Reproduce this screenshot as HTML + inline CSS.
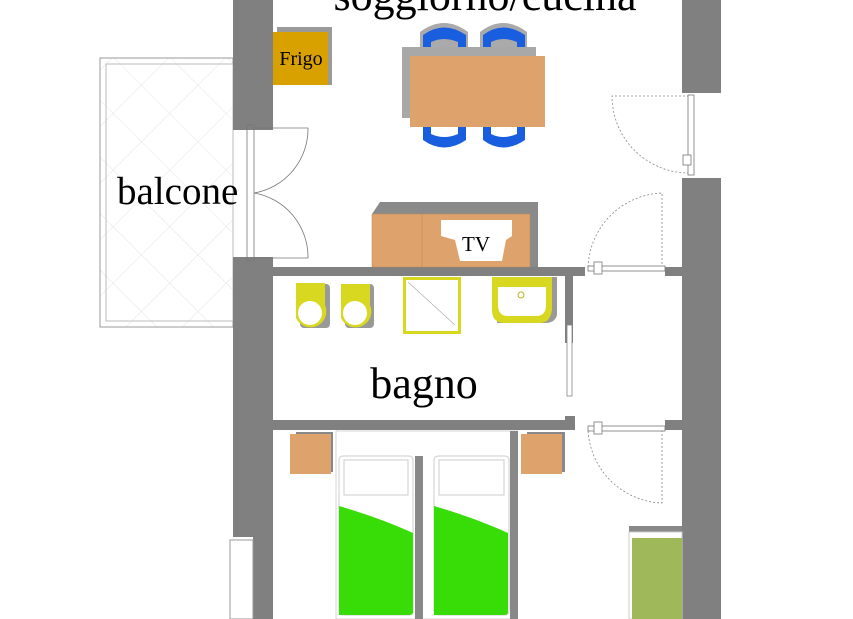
<!DOCTYPE html>
<html><head><style>body{margin:0;background:#fff}svg{display:block}</style></head><body>
<svg width="853" height="619" viewBox="0 0 853 619" xmlns="http://www.w3.org/2000/svg" font-family="Liberation Serif, serif">
<defs><pattern id="p" width="40" height="40" patternUnits="userSpaceOnUse" patternTransform="rotate(45)"><path d="M0 0H40M0 0V40" stroke="#e4e4e4" stroke-width="1" fill="none"/></pattern></defs>
<rect x="100" y="58" width="133" height="269" fill="url(#p)" stroke="#999" stroke-width="1"/>
<rect x="106" y="64" width="127" height="257" fill="none" stroke="#bbb" stroke-width="1"/>
<text x="117" y="204" font-size="39">balcone</text>
<g fill="#808080">
<rect x="233" y="0" width="40" height="130"/>
<rect x="233" y="257" width="40" height="280"/>
<rect x="253" y="537" width="20" height="82"/>
<rect x="682" y="0" width="39" height="93"/>
<rect x="682" y="178" width="39" height="441"/>
<rect x="273" y="267" width="312" height="9"/>
<rect x="665" y="267" width="17" height="9"/>
<rect x="273" y="420" width="302" height="10"/>
<rect x="565" y="416" width="10" height="6"/>
<rect x="665" y="420" width="17" height="10"/>
<rect x="565" y="276" width="8" height="67"/>
</g>
<rect x="230" y="540" width="23" height="79" fill="#fff" stroke="#999"/>
<rect x="567" y="325" width="5" height="71" fill="#fff" stroke="#888" stroke-width="0.8"/>
<g fill="none" stroke="#777" stroke-width="0.8">
<rect x="247" y="125" width="7" height="135"/>
<path d="M254 128 H308 A65 65 0 0 1 254 193"/>
<path d="M254 258 H308 A65 65 0 0 0 254 193"/>
</g>
<g fill="none" stroke="#888" stroke-width="0.8" stroke-dasharray="2,2">
<path d="M689 96 H612 A77 77 0 0 0 689 173"/>
<path d="M662 268 V193 A77 77 0 0 0 588 268"/>
<path d="M662 430 V503 A77 77 0 0 1 588 430"/>
</g>
<g fill="#fff" stroke="#777" stroke-width="0.8">
<rect x="688" y="95" width="6" height="80"/>
<rect x="588" y="266" width="77" height="5"/>
<rect x="588" y="426" width="77" height="5"/>
<rect x="683" y="155" width="8" height="10"/>
<rect x="594" y="262" width="8" height="12"/>
<rect x="594" y="422" width="8" height="12"/>
</g>
<text x="485" y="10" font-size="44" text-anchor="middle">soggiorno/cucina</text>
<rect x="277" y="27" width="55" height="58" fill="#9a9a9a"/>
<rect x="273" y="32" width="55" height="53" fill="#d9a100"/>
<text x="301" y="65" font-size="20" text-anchor="middle">Frigo</text>
<g>
<path d="M420 48 V32 Q444 14 468 32 V48Z" fill="#aaa"/><path d="M423 50 V35 Q444 20 466 35 V50 H458 V42 Q444 36 431 42 V50Z" fill="#1a5ee0"/>
<path d="M480 48 V32 Q503 14 527 32 V48Z" fill="#aaa"/><path d="M483 50 V35 Q503 20 525 35 V50 H517 V42 Q503 36 491 42 V50Z" fill="#1a5ee0"/>
<path d="M423 127 V140 Q444 155 466 140 V127 H458 V134 Q444 140 431 134 V127Z" fill="#1a5ee0"/>
<path d="M483 127 V140 Q503 155 525 140 V127 H517 V134 Q503 140 491 134 V127Z" fill="#1a5ee0"/>
</g>
<rect x="402" y="47" width="134" height="71" fill="#a8a8a8"/>
<rect x="410" y="56" width="135" height="71" fill="#dea36c"/>
<path d="M372 214 L380 202 H538 V267 H372Z" fill="#8a8a8a"/>
<rect x="372" y="214" width="158" height="53" fill="#dea36c" stroke="#b98a5a" stroke-width="0.5"/>
<line x1="422" y1="214" x2="422" y2="267" stroke="#b98a5a" stroke-width="0.6"/>
<path d="M441 220 H512 V236 L506 240 L502 261 H460 L455 240 L441 236Z" fill="#fff"/>
<text x="476" y="251" font-size="21" text-anchor="middle">TV</text>
<rect x="300" y="284" width="30" height="44" fill="#999" rx="4"/>
<path d="M296 283 H325 V305 A15 15 0 0 1 296 318Z" fill="#d8d820"/>
<circle cx="310" cy="313" r="12" fill="#fff"/>
<rect x="345" y="284" width="29" height="44" fill="#999" rx="4"/>
<path d="M341 284 H370 V305 A15 15 0 0 1 341 318Z" fill="#d8d820"/>
<circle cx="355" cy="313" r="12" fill="#fff"/>
<rect x="403" y="277" width="58" height="57" fill="#d8d820"/>
<rect x="406" y="280" width="52" height="51" fill="#fff"/>
<line x1="408" y1="282" x2="455" y2="325" stroke="#aaa" stroke-width="0.6"/>
<path d="M497 277 H557 V315 Q555 323 545 323 H497Z" fill="#999"/>
<path d="M492 277 H552 V310 Q550 323 540 323 H505 Q492 323 492 310Z" fill="#d8d820"/>
<path d="M498 287 H546 V305 Q546 316 536 316 H508 Q498 316 498 305Z" fill="#fff"/>
<circle cx="521" cy="295" r="3" fill="none" stroke="#bbb820"/>
<text x="424" y="398" font-size="44" text-anchor="middle">bagno</text>
<rect x="296" y="432" width="37" height="40" fill="#888"/>
<rect x="290" y="434" width="41" height="40" fill="#dea36c"/>
<rect x="527" y="432" width="38" height="40" fill="#888"/>
<rect x="521" y="434" width="41" height="40" fill="#dea36c"/>
<rect x="336" y="431" width="181" height="188" fill="#fff" stroke="#ccc" stroke-width="0.8"/>
<rect x="510" y="431" width="8" height="188" fill="#888"/>
<rect x="415" y="456" width="8" height="163" fill="#888"/>
<g>
<rect x="339" y="456" width="74" height="159" rx="4" fill="#fff" stroke="#ccc"/>
<rect x="344" y="460" width="64" height="35" fill="#fff" stroke="#ccc"/>
<path d="M339 506 Q380 518 413 533 V612 Q413 615 409 615 H339Z" fill="#38dc06"/>
<rect x="434" y="456" width="75" height="159" rx="4" fill="#fff" stroke="#ccc"/>
<rect x="439" y="460" width="65" height="35" fill="#fff" stroke="#ccc"/>
<path d="M434 506 Q475 518 508 533 V612 Q508 615 504 615 H434Z" fill="#38dc06"/>
</g>
<rect x="629" y="526" width="53" height="93" fill="#888"/>
<rect x="629" y="532" width="53" height="87" fill="#fff" stroke="#ccc"/>
<rect x="632" y="538" width="50" height="81" fill="#9fb85a"/>
</svg>
</body></html>
